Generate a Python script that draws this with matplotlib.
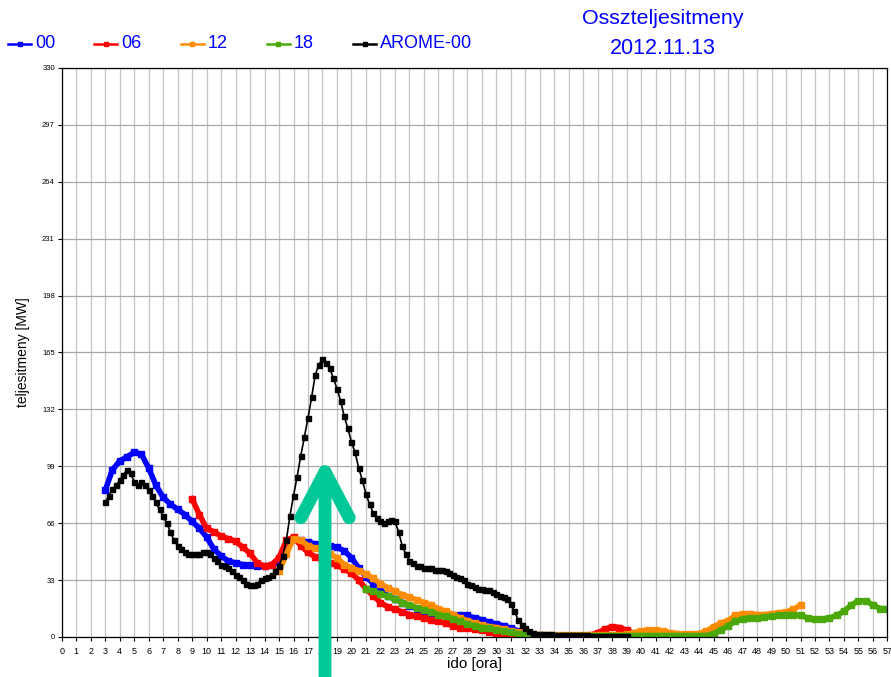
import numpy as np
import matplotlib
matplotlib.use('Agg')
import matplotlib.pyplot as plt
from matplotlib.lines import Line2D

plt.rcParams['font.family'] = ['Liberation Sans', 'DejaVu Sans']

# forecast runs, hours since 00 UTC, values in MW
hours_00 = np.arange(3.0, 39.01, 0.5)
vals_00 = [85, 97, 102, 104.5, 107, 106, 98, 88, 81, 77, 74, 71, 67, 63, 58, 51,
           47, 44, 43, 42, 41.5, 41, 41, 41.5, 44, 53, 57, 56, 55, 54, 53, 52.5,
           52, 50, 46, 40, 35, 31, 27, 24, 22, 20, 18, 16.5, 15, 14, 13, 12.5,
           12.5, 13, 12.5, 11, 10, 8.5, 7.5, 6.5, 5, 3.5, 2, 1, 0.7, 0.6, 0.5,
           0.5, 0.5, 0.5, 0.5, 0.5, 0.5, 0.5, 0.5, 0.5, 0.5]

hours_06 = np.arange(9.0, 45.01, 0.5)
vals_06 = [80, 71, 63, 61, 58.5, 57, 55.5, 52, 48.5, 43, 41, 42, 46, 56, 58, 53,
           49, 46.5, 44.5, 43, 41.5, 39.5, 37, 33, 28, 24, 20, 17.5, 16, 14.5,
           13, 12, 11, 10, 9, 8, 6.5, 5.5, 5, 4.5, 4, 3, 2, 1.2, 0.8, 0.5, 0.5,
           0.5, 0.5, 0.5, 0.5, 0.5, 0.5, 0.5, 0.5, 1, 2.5, 4.5, 6, 5.5, 4, 2, 1,
           0.5, 0.5, 0.5, 0.5, 0.5, 0.5, 0.5, 0.5, 0.5, 0.5]

hours_12 = np.arange(15.0, 51.01, 0.5)
vals_12 = [38, 48, 57, 56, 53, 51.5, 50, 48, 46, 42, 40, 38.5, 36.5, 34, 31,
           28.5, 26.5, 24.5, 23, 21.5, 20, 18.5, 16.5, 15, 13, 11, 9.5, 8, 7, 6,
           5.5, 4.5, 3.5, 3, 2, 1.5, 1, 1, 1, 1, 1, 1, 1, 1, 1, 1, 1, 1, 1.5,
           2.5, 3.5, 4, 4, 3.5, 2.5, 2, 1.5, 1.5, 2, 3.5, 6, 8, 9.5, 12.5, 13.5,
           13.5, 13, 13, 13.5, 14, 14.5, 16, 18.5]

hours_18 = np.arange(21.0, 57.01, 0.5)
vals_18 = [28, 26.5, 25, 23.5, 22, 20, 18.5, 17, 15.5, 14.5, 13, 12, 10.5, 9,
           7.5, 6.5, 5.5, 5, 4, 3.5, 2.7, 2, 1.5, 1, 0.8, 0.8, 0.8, 0.8, 0.8,
           0.8, 0.8, 0.8, 0.8, 0.8, 0.8, 0.8, 0.8, 0.8, 0.8, 0.8, 0.8, 0.8, 0.8,
           0.8, 0.8, 0.8, 0.8, 0.8, 2, 4, 6.5, 9, 10.5, 11, 11, 11.5, 12, 12.5,
           13, 13, 12.5, 11, 10.3, 10.5, 11, 12.5, 15, 18.5, 21, 21, 18.5, 16.5,
           16.5]

hours_arome = np.arange(3.0, 39.01, 0.25)
vals_arome = [78, 82, 86, 88, 91, 94, 97, 95, 90, 88, 90, 88, 85, 82, 78, 74,
              70, 66, 61, 56, 53, 51, 49, 48, 48, 48, 48, 49, 49, 48, 46, 44,
              42, 41, 40, 38, 36, 35, 33, 31, 30, 30, 31, 33, 34, 35, 36, 38,
              41, 47, 56, 70, 82, 93, 105, 116, 127, 139, 152, 158, 161, 159,
              156, 150, 144, 137, 128, 121, 113, 107, 98, 91, 83, 77, 72, 69,
              67, 66, 67, 68, 67, 61, 53, 48, 44, 43, 41, 41, 40, 40, 40, 39,
              39, 39, 38, 37, 36, 35, 34, 33, 31, 30, 29, 28, 28, 27, 27, 26,
              25, 24, 23, 22, 19, 15, 10, 7, 5, 3.5, 2.5, 2, 1.8, 1.7, 1.6, 1.5,
              1.4, 1.3, 1.2, 1.2, 1.1, 1, 1, 1, 0.9, 0.9, 0.8, 0.8, 0.8,
              0.7, 0.7, 0.7, 0.6, 0.6, 0.6, 0.5, 0.5]

series = [
    ('00', hours_00, vals_00, '#0000ff'),
    ('06', hours_06, vals_06, '#ff0000'),
    ('12', hours_12, vals_12, '#ff8c00'),
    ('18', hours_18, vals_18, '#4aa80a'),
]

fig = plt.figure(figsize=(8.91, 6.77), dpi=100)
ax = fig.add_axes([0.0693, 0.0591, 0.9267, 0.8405])

for name, h, v, col in series:
    ax.plot(h, v, '-s', color=col, lw=4, ms=4.5, mec=col, mfc=col)
ax.plot(hours_arome, vals_arome, '-s', color='black', lw=1.2, ms=3.6)

ax.set_xlim(0, 57)
ax.set_ylim(0, 330)
ax.set_xticks(range(0, 58))
ax.set_yticks(range(0, 331, 33))
ax.tick_params(axis='x', labelsize=6.5, length=3, pad=4)
ax.tick_params(axis='y', labelsize=5.5, length=3, pad=2)
ax.grid(True, axis='x', color='#c4c4c4', lw=0.9)
ax.grid(True, axis='y', color='#a8a8a8', lw=0.9)
ax.set_axisbelow(True)
for sp in ax.spines.values():
    sp.set_linewidth(0.9)

ax.set_xlabel('ido [ora]', fontsize=11, labelpad=1)
ax.set_ylabel('teljesitmeny [MW]', fontsize=10, labelpad=9)

# legend along the top
legend_items = [('00', '#0000ff'), ('06', '#ff0000'), ('12', '#ff8c00'),
                ('18', '#4aa80a'), ('AROME-00', 'black')]
for i, (lab, col) in enumerate(legend_items):
    x0 = (8 + 86.3 * i) / 891
    y0 = 1 - 43.5 / 677
    fig.add_artist(Line2D([x0, x0 + 23 / 891], [y0, y0], color=col, lw=1.8,
                          transform=fig.transFigure))
    fig.add_artist(Line2D([x0 + 11.5 / 891], [y0], color=col, marker='s',
                          ms=3.2, transform=fig.transFigure))
    fig.text(x0 + 27 / 891, y0, lab, color='#0000ff', fontsize=13,
             va='center', ha='left')

fig.text(663 / 891, 1 - 19 / 677, 'Osszteljesitmeny', color='#0000ff',
         fontsize=15.4, ha='center', va='center')
fig.text(662.5 / 891, 1 - 48 / 677, '2012.11.13', color='#0000ff',
         fontsize=15.5, ha='center', va='center')

# highlight arrow drawn over the chart
ax.annotate('', xy=(325 / 891, 1 - 458 / 677), xytext=(325 / 891, -0.02),
            xycoords='figure fraction', textcoords='figure fraction',
            arrowprops=dict(arrowstyle='->,head_length=1.65,head_width=0.87',
                            color='#00c896', lw=9.3, mutation_scale=20,
                            capstyle='round', joinstyle='round',
                            shrinkA=0, shrinkB=0))

fig.savefig('out.png', dpi=100)
